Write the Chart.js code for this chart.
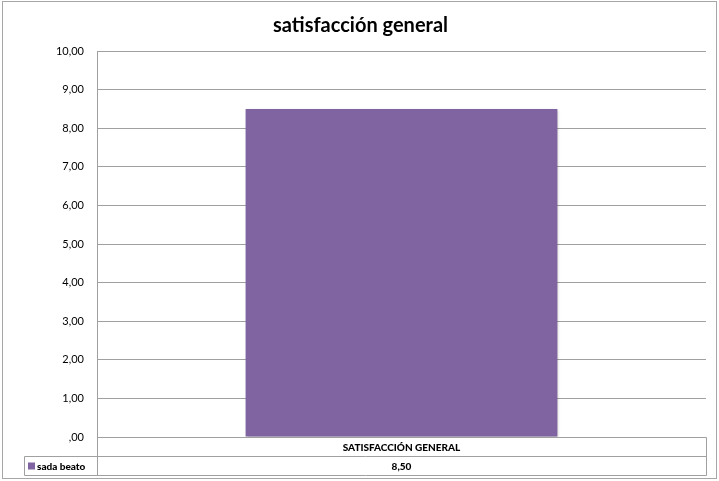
<!DOCTYPE html>
<html>
<head>
<meta charset="utf-8">
<script src="https://cdn.jsdelivr.net/npm/chart.js@4"></script>
<style>
html,body{margin:0;padding:0;background:#fff;}
#wrap{width:719px;height:481px;position:relative;}
</style>
</head>
<body>
<div id="wrap"><canvas id="c" width="719" height="481"></canvas></div>
<script>
const titleText = "satisfacción general";
const categories = ["SATISFACCIÓN GENERAL"];
const seriesName = "sada beato";
const seriesValues = [8.5];
const barColor = "#8064A2";
const yMin = 0, yMax = 10, yStep = 1;

function fmt(v){
  const s = v.toFixed(2).replace('.', ',');
  return s.startsWith('0,') ? s.slice(1) : s;
}

const FONT = "Lato, 'Noto Sans', sans-serif";

const framePlugin = {
  id: 'frame',
  beforeDraw(chart){
    const ctx = chart.ctx;
    ctx.save();
    ctx.fillStyle = '#fff';
    ctx.fillRect(0,0,chart.width,chart.height);
    ctx.strokeStyle = '#A6A6A6';
    ctx.lineWidth = 1;
    ctx.strokeRect(2.5,1.5,chart.width-5,chart.height-4);
    ctx.fillStyle = '#000';
    ctx.font = "bold 20px " + FONT;
    ctx.textAlign = 'center';
    ctx.textBaseline = 'middle';
    ctx.fillText(titleText, chart.width/2 + 1, 26);
    ctx.restore();
  },
  beforeDatasetsDraw(chart){
    chart.ctx.save();
    chart.ctx.shadowColor = 'rgba(0,0,0,0.25)';
    chart.ctx.shadowBlur = 3;
    chart.ctx.shadowOffsetX = 1;
    chart.ctx.shadowOffsetY = 1;
  },
  afterDatasetsDraw(chart){
    chart.ctx.restore();
  },
  afterDraw(chart){
    const ctx = chart.ctx;
    const a = chart.chartArea;
    const xs = chart.scales.x;
    const L = Math.round(a.left)+0.5, R = Math.round(a.right)+0.5, T = Math.round(a.bottom)+0.5;
    const rowH = 19;
    const legL = 24.5;
    ctx.save();
    ctx.strokeStyle = '#A0A0A0';
    ctx.lineWidth = 1;
    ctx.beginPath();
    ctx.moveTo(L,T); ctx.lineTo(R,T);
    ctx.moveTo(legL,T+rowH); ctx.lineTo(R,T+rowH);
    ctx.moveTo(legL,T+2*rowH); ctx.lineTo(R,T+2*rowH);
    ctx.moveTo(L,T); ctx.lineTo(L,T+2*rowH);
    ctx.moveTo(R,T); ctx.lineTo(R,T+2*rowH);
    ctx.moveTo(legL,T+rowH); ctx.lineTo(legL,T+2*rowH);
    ctx.stroke();
    ctx.fillStyle = '#000';
    ctx.font = "900 10px " + FONT;
    ctx.textAlign = 'center';
    ctx.textBaseline = 'middle';
    categories.forEach((c,i)=>{
      const x = xs.getPixelForValue(i);
      ctx.fillText(c, x, T+rowH/2+1);
      ctx.fillText(fmt(seriesValues[i]), x, T+rowH*1.5+1);
    });
    ctx.fillStyle = barColor;
    ctx.fillRect(28, T+rowH+6, 7, 7);
    ctx.fillStyle = '#000';
    ctx.textAlign = 'left';
    ctx.fillText(seriesName, 37, T+rowH*1.5+1);
    ctx.restore();
  }
};

new Chart(document.getElementById('c'), {
  type: 'bar',
  data: {
    labels: categories,
    datasets: [{
      label: seriesName,
      data: seriesValues,
      backgroundColor: barColor,
      borderWidth: 0,
      categoryPercentage: 1,
      barPercentage: 0.512
    }]
  },
  options: {
    responsive: false,
    animation: false,
    devicePixelRatio: 1,
    layout: { padding: { left: 0, right: 13, top: 51, bottom: 44 } },
    plugins: { legend: { display: false }, title: { display: false }, tooltip: { enabled: false } },
    scales: {
      x: {
        grid: { display: false, drawTicks: false },
        border: { display: false },
        ticks: { display: false }
      },
      y: {
        min: yMin, max: yMax,
        afterFit(s){ s.width = 97; },
        ticks: {
          stepSize: yStep,
          padding: 13,
          color: '#000',
          font: { family: FONT, size: 11 },
          callback: v => fmt(v)
        },
        grid: { color: '#A0A0A0', drawTicks: false, lineWidth: 1 },
        border: { color: '#A0A0A0', width: 1 }
      }
    }
  },
  plugins: [framePlugin]
});
</script>
</body>
</html>
